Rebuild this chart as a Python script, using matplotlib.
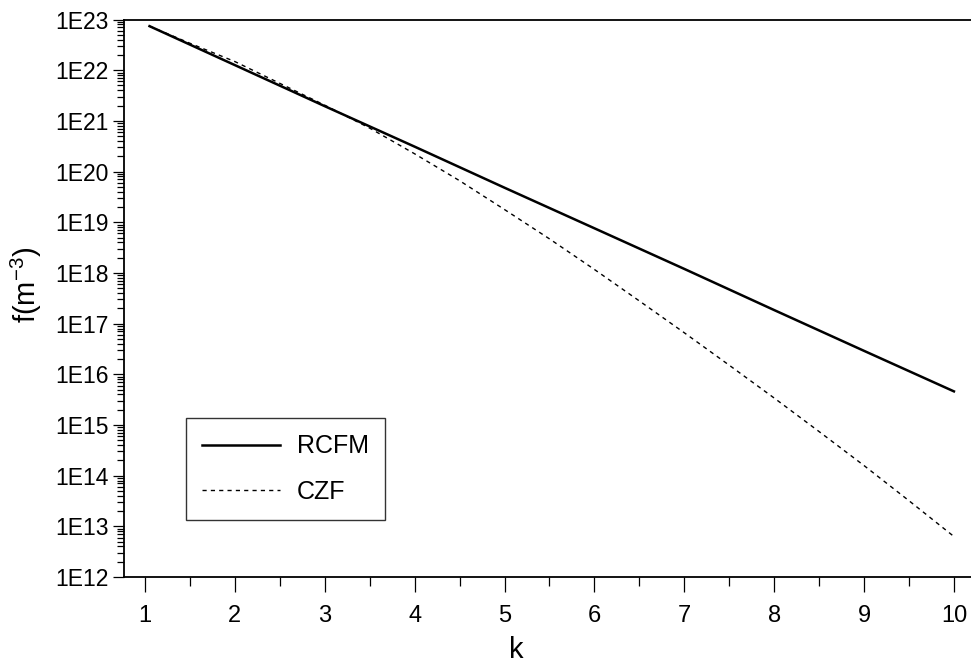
import numpy as np
import matplotlib
matplotlib.use("Agg")
import matplotlib.pyplot as plt
from matplotlib.ticker import FixedLocator, LogLocator, MultipleLocator, FuncFormatter, NullFormatter

plt.rcParams["font.family"] = ["Liberation Sans", "DejaVu Sans"]
plt.rcParams["mathtext.default"] = "regular"

# RCFM curve
k_rcfm = [1.05, 2, 3, 4, 5, 6, 7, 8, 9, 10]
f_rcfm = [7.4e22, 1.26e22, 1.95e21, 3.1e20, 4.8e19, 7.6e18, 1.2e18, 1.85e17, 2.9e16, 4.6e15]

# CZF curve
k_czf = [1.05, 1.5, 2, 2.5, 3, 3.5, 4, 4.5, 5, 5.5, 6, 6.5, 7, 7.5, 8, 8.5, 9, 9.5, 10]
f_czf = [7.4e22, 3.4e22, 1.48e22, 5.5e21, 2.04e21, 7.2e20, 2.24e20, 6.6e19, 1.78e19,
         4.7e18, 1.17e18, 2.8e17, 6.6e16, 1.51e16, 3.4e15, 7.4e14, 1.58e14, 3.2e13, 6.3e12]

x_ticks = list(range(1, 11))
y_decades = list(range(12, 24))

fig = plt.figure(figsize=(9.71, 6.62), dpi=100)
ax = fig.add_axes([0.1277, 0.1284, 0.8723, 0.8421])

ax.plot(k_rcfm, f_rcfm, color="black", lw=1.8, label="RCFM")
ax.plot(k_czf, f_czf, color="black", lw=1.0, linestyle=(0, (3, 3)), label="CZF")

ax.set_yscale("log")
ax.set_xlim(0.766, 10.19)
ax.set_ylim(1e12, 1e23)

ax.xaxis.set_major_locator(FixedLocator(x_ticks))
ax.xaxis.set_minor_locator(MultipleLocator(0.5))
ax.yaxis.set_major_locator(FixedLocator([10.0 ** d for d in y_decades]))
ax.yaxis.set_minor_locator(LogLocator(base=10, subs=np.arange(2, 10), numticks=200))
ax.yaxis.set_major_formatter(FuncFormatter(lambda v, p: f"1E{int(round(np.log10(v)))}"))
ax.yaxis.set_minor_formatter(NullFormatter())

ax.tick_params(axis="x", which="major", direction="out", length=10.5, width=0.9, labelsize=17, pad=10)
ax.tick_params(axis="x", which="minor", direction="out", length=6.5, width=0.9)
ax.tick_params(axis="y", which="major", direction="out", length=8, width=0.9, labelsize=16.5, pad=3)
ax.tick_params(axis="y", which="minor", direction="out", length=5, width=0.9)

for side in ("left", "bottom", "top"):
    ax.spines[side].set_linewidth(1.3)
ax.spines["right"].set_visible(False)

ax.set_xlabel("k", fontsize=21)
ax.xaxis.set_label_coords(0.463, -0.105)
ax.set_ylabel(r"f(m$^{-3}$)", fontsize=21)
ax.yaxis.set_label_coords(-0.094, 0.524)

leg = ax.legend(loc="upper left", bbox_to_anchor=(0.0732, 0.285), borderaxespad=0,
                fontsize=18, handlelength=3.1, handletextpad=0.7, labelspacing=0.85,
                borderpad=0.65, fancybox=False, frameon=True)
leg.get_frame().set_edgecolor("black")
leg.get_frame().set_linewidth(1.0)

fig.savefig("out.png", dpi=100)
